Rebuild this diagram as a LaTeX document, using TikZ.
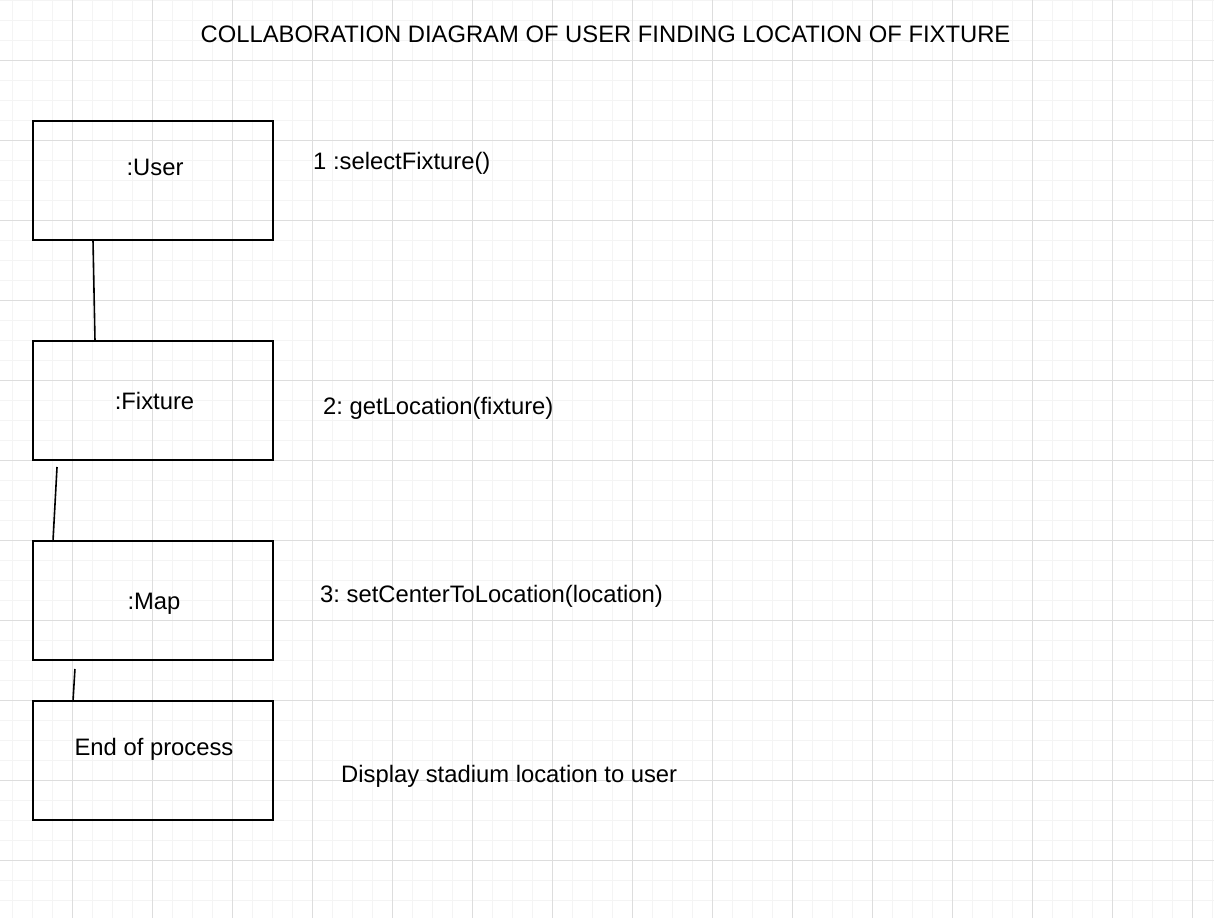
\documentclass[tikz,border=0pt]{standalone}
\usepackage{fontspec}
\setmainfont{Liberation Sans}
\usetikzlibrary{positioning,calc}
\definecolor{gridminor}{HTML}{F4F4F4}
\definecolor{gridmajor}{HTML}{DDDDDD}
\frenchspacing

\begin{document}
\begin{tikzpicture}[x=1pt,y=-1pt,
  block/.style={draw,line width=2pt,outer sep=0pt,inner sep=0pt,minimum width=240pt,minimum height=119pt},
  txt/.style={anchor=base,inner sep=0pt,font=\fontsize{23.8}{28}\selectfont},
  msg/.style={anchor=base west,inner sep=0pt,font=\fontsize{23.8}{28}\selectfont},
  link/.style={line width=1.6pt}]
\useasboundingbox (0,0) rectangle (1214,918);
% background grid
\foreach \gx in {12,32,...,1212} \draw[gridminor,line width=1pt] (\gx,0) -- (\gx,918);
\foreach \gy in {0,20,...,918} \draw[gridminor,line width=1pt] (0,\gy) -- (1214,\gy);
\foreach \gx in {72,152,...,1212} \draw[gridmajor,line width=1pt] (\gx,0) -- (\gx,918);
\foreach \gy in {60,140,...,918} \draw[gridmajor,line width=1pt] (0,\gy) -- (1214,\gy);

\node[txt] (title) at (605.5,42) {COLLABORATION DIAGRAM OF USER FINDING LOCATION OF FIXTURE};

\node[block] (user) at (153,180.5) {};
\node[block,below=101pt of user] (fixture) {};
\node[block,below=81pt of fixture] (map) {};
\node[block,below=41pt of map] (end) {};

\node[txt] (userlbl) at (155,175) {:User};
\node[txt] (fixturelbl) at (154.5,409) {:Fixture};
\node[txt] (maplbl) at (154,609) {:Map};
\node[txt] (endlbl) at (154,755) {End of process};

\node[msg] (msg1) at (313,169) {1 :selectFixture()};
\node[msg] (msg2) at (323,414) {2: getLocation(fixture)};
\node[msg] (msg3) at (320,602) {3: setCenterToLocation(location)};
\node[msg] (msg4) at (341,782) {Display stadium location to user};

% links between objects
\draw[link] ($(user.south west)+(60,0)$) -- ($(fixture.north west)+(62,0)$);
\draw[link,shorten <=7pt] ($(fixture.south west)+(24.4,0)$) -- ($(map.north west)+(20,0)$);
\draw[link,shorten <=9pt] ($(map.south west)+(42.5,0)$) -- ($(end.north west)+(40,0)$);
\end{tikzpicture}
\end{document}
